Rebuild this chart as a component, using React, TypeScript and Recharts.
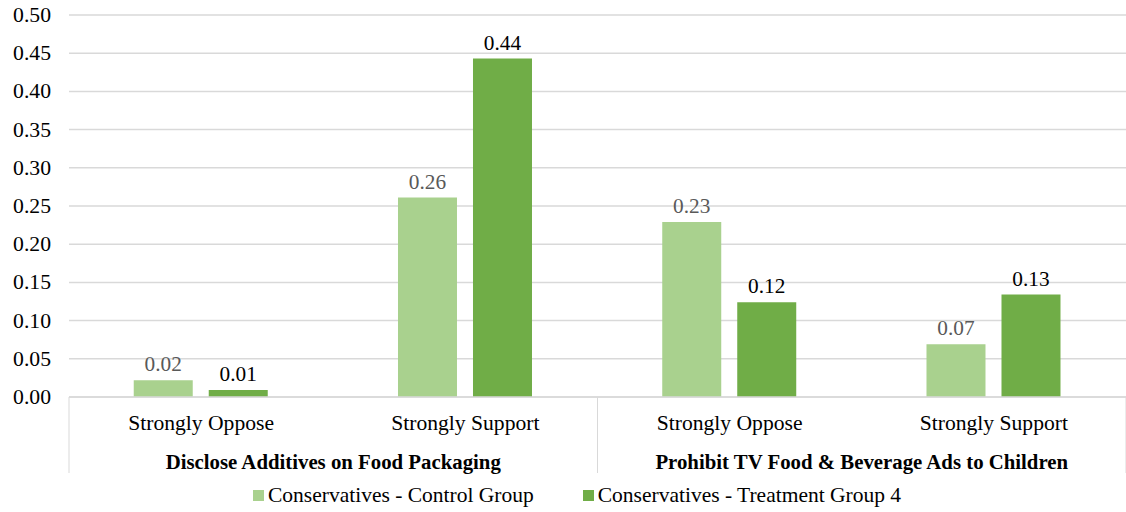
import { BarChart, Bar, XAxis, YAxis, CartesianGrid, LabelList } from "recharts"

const responses = ["Strongly Oppose", "Strongly Support", "Strongly Oppose", "Strongly Support"]
const groups = [
  "Disclose Additives on Food Packaging",
  "Disclose Additives on Food Packaging",
  "Prohibit TV Food & Beverage Ads to Children",
  "Prohibit TV Food & Beverage Ads to Children",
]
const controlGroup = [0.022, 0.261, 0.229, 0.069]
const treatmentGroup4 = [0.009, 0.443, 0.124, 0.134]
const yTicks = [0, 0.05, 0.1, 0.15, 0.2, 0.25, 0.3, 0.35, 0.4, 0.45, 0.5]

const seriesNames = ["Conservatives - Control Group", "Conservatives - Treatment Group 4"]
const seriesColors = ["#A9D18E", "#70AD47"]

const data = responses.map((r, i) => ({
  response: r,
  group: groups[i],
  control: controlGroup[i],
  treatment: treatmentGroup4[i],
}))

const FONT = "Liberation Serif"

const fmt = (v: any) => Number(v).toFixed(2)

const CategoryTick = (props: any) => {
  const { x, y, payload, index } = props
  const half = payload && payload.offset ? payload.offset : 132
  const first = index === 0 || groups[index] !== groups[index - 1]
  const last = index === groups.length - 1
  return (
    <g>
      <text x={x} y={y + 33} textAnchor="middle" fontFamily={FONT} fontSize={21.6} fill="#000">
        {payload.value}
      </text>
      {first && (
        <>
          <line x1={x - half} x2={x - half} y1={y} y2={y + 76} stroke="#d9d9d9" strokeWidth={1} />
          <text x={x + half} y={y + 72} textAnchor="middle" fontFamily={FONT} fontSize={20.8} fontWeight="bold" fill="#000">
            {groups[index]}
          </text>
        </>
      )}
      {last && <line x1={x + half} x2={x + half} y1={y} y2={y + 76} stroke="#d9d9d9" strokeWidth={1} />}
    </g>
  )
}

const ValueLabel = (color: string) => (props: any) => {
  const { x, y, width, value } = props
  return (
    <text x={x + width / 2} y={y - 9} textAnchor="middle" fontFamily={FONT} fontSize={21.3} fill={color}>
      {fmt(value)}
    </text>
  )
}

const LegendRow = () => (
  <div
    style={{
      position: "absolute",
      left: 253,
      top: 483,
      display: "flex",
      fontFamily: FONT,
      fontSize: 21.5,
      color: "#000",
      whiteSpace: "nowrap",
    }}
  >
    {seriesNames.map((name, i) => (
      <div key={name} style={{ display: "flex", alignItems: "center", marginRight: i === 0 ? 49 : 0 }}>
        <span style={{ display: "inline-block", width: 11, height: 11, background: seriesColors[i], marginRight: 4 }} />
        <span>{name}</span>
      </div>
    ))}
  </div>
)

const YTick = (props: any) => {
  const { x, y, payload } = props
  return (
    <text x={x} y={y + 7} textAnchor="end" fontFamily={FONT} fontSize={21.7} fill="#000">
      {fmt(payload.value)}
    </text>
  )
}

export default function App() {
  return (
    <div style={{ position: "absolute", left: 0, top: 0, width: 1126, height: 512, fontFamily: FONT }}>
      <BarChart
        width={1126}
        height={512}
        data={data}
        margin={{ top: 15, right: 0, bottom: 35, left: 0 }}
        barCategoryGap="24.5%"
        barGap={16}
      >
        <CartesianGrid vertical={false} stroke="#d9d9d9" strokeWidth={1.5} />
        <YAxis
          width={69}
          domain={[0, 0.5]}
          ticks={yTicks}
          axisLine={false}
          tickLine={false}
          tickSize={0}
          tickMargin={18}
          tick={<YTick />}
        />
        <XAxis
          dataKey="response"
          height={80}
          interval={0}
          axisLine={{ stroke: "#d9d9d9", strokeWidth: 1.5 }}
          tickLine={false}
          tickSize={0}
          tickMargin={0}
          tick={<CategoryTick />}
        />
        <Bar dataKey="control" name={seriesNames[0]} fill={seriesColors[0]} isAnimationActive={false}>
          <LabelList dataKey="control" content={ValueLabel("#595959")} />
        </Bar>
        <Bar dataKey="treatment" name={seriesNames[1]} fill={seriesColors[1]} isAnimationActive={false}>
          <LabelList dataKey="treatment" content={ValueLabel("#000")} />
        </Bar>
      </BarChart>
      <LegendRow />
    </div>
  )
}
